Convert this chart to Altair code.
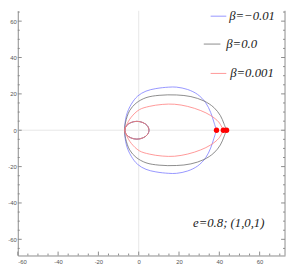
import altair as alt
import pandas as pd

# ---------------- data ----------------
series_names = ["β=−0.01", "β=0.0", "β=0.001"]
series_colors = ["#7b7bff", "#6e6e6e", "#ff7d7d"]

# upper halves (left -> right)
blue_up_x = [-6.9, -6.1, -3.7, -0.5, 3.6, 8.5, 14.9, 18.8, 24.3, 29.2, 33.2, 35.7, 37.3, 38.6]
blue_up_y = [0.0, 8.1, 14.3, 18.8, 21.5, 22.9, 23.7, 23.7, 22.4, 19.7, 15.2, 9.8, 4.5, 0.0]
# lower halves (left -> right)
blue_lo_x = [-6.9, -6.1, -3.7, -0.5, 3.6, 8.5, 14.9, 18.8, 24.3, 29.2, 33.2, 35.7, 37.3, 38.6]
blue_lo_y = [0.0, -8.1, -14.3, -18.8, -21.5, -22.9, -23.7, -23.7, -22.4, -19.7, -15.2, -9.8, -4.5, 0.0]

gray_up_x = [-6.9, -6.5, -4.5, -1.3, 3.6, 10.1, 18.8, 25.9, 32.4, 37.3, 40.5, 42.3, 43.5]
gray_up_y = [0.0, 4.5, 10.8, 14.9, 17.9, 19.2, 19.4, 18.5, 16.1, 12.5, 8.1, 3.6, 0.0]
gray_lo_x = [-6.9, -6.5, -4.5, -1.3, 3.6, 10.1, 18.8, 25.9, 32.4, 37.3, 40.5, 42.3, 43.5]
gray_lo_y = [0.0, -4.5, -10.8, -14.9, -17.9, -19.2, -19.4, -18.5, -16.1, -12.5, -8.1, -3.6, 0.0]

red_up_x = [-6.9, -6.1, -3.7, 0.3, 5.2, 11.7, 17.8, 24.3, 30.8, 35.7, 39.7, 42.0]
red_up_y = [0.0, 2.7, 7.2, 11.3, 13.1, 14.2, 14.3, 13.1, 10.8, 8.1, 4.5, 0.0]
red_lo_x = [-6.9, -6.1, -3.7, 0.3, 5.2, 11.7, 17.8, 24.3, 30.8, 35.7, 39.7, 42.0]
red_lo_y = [0.0, -2.7, -7.2, -11.3, -13.1, -14.2, -14.3, -13.1, -10.8, -8.1, -4.5, 0.0]

# small inner loop (shared by all three), without the joining point (-6.9, 0)
loop_x = [-6.1, -3.9, -0.9, 2.1, 4.3, 5.1, 4.3, 2.1, -0.9, -3.9, -6.1]
loop_y = [-2.45, -4.2, -4.9, -4.2, -2.45, 0.0, 2.45, 4.2, 4.9, 4.2, 2.45]

# red end points
dots_x = [38.6, 42.0, 43.6]
dots_y = [0.0, 0.0, 0.0]

x_labels = [-60, -40, -20, 0, 20, 40, 60]
y_labels = [-60, -40, -20, 0, 20, 40, 60]
x_minor = [-55, -50, -45, -35, -30, -25, -15, -10, -5, 5, 10, 15, 25, 30, 35, 45, 50, 55, 65, 70]
y_minor = [-65, -55, -50, -45, -35, -30, -25, -15, -10, -5, 5, 10, 15, 25, 30, 35, 45, 50, 55, 65]

note_text = "e=0.8; (1,0,1)"

# ---------------- build tables ----------------
curves = [
    (blue_up_x, blue_up_y, blue_lo_x, blue_lo_y),
    (gray_up_x, gray_up_y, gray_lo_x, gray_lo_y),
    (red_up_x, red_up_y, red_lo_x, red_lo_y),
]
rows = []
for name, (ux, uy, lx, ly) in zip(series_names, curves):
    px = list(reversed(ux)) + loop_x + lx
    py = list(reversed(uy)) + loop_y + ly
    for i, (a, b) in enumerate(zip(px, py)):
        rows.append({"x": a, "y": b, "series": name, "ord": i})
curve_df = pd.DataFrame(rows)
dots_df = pd.DataFrame({"x": dots_x, "y": dots_y})

# ---------------- layout / style ----------------
W, H = 273, 250
XDOM = [-60.0, 72.6]
YDOM = [-68.9, 65.7]
FRAME = "#8a8a8a"
LABEL = "#555555"

xs = alt.Scale(domain=XDOM, nice=False, zero=False)
ys = alt.Scale(domain=YDOM, nice=False, zero=False)
xaxis = alt.Axis(values=x_labels, ticks=False, grid=False, domainColor=FRAME,
                 labelFontSize=6, labelColor=LABEL, labelPadding=3,
                 labelFont="Liberation Sans", labelExpr="datum.value + ''", title=None)
yaxis = alt.Axis(values=y_labels, ticks=False, grid=False, domainColor=FRAME,
                 labelFontSize=6, labelColor=LABEL, labelPadding=1.5,
                 labelFont="Liberation Sans", labelExpr="datum.value + ''", title=None)

X = lambda: alt.X("x:Q", scale=xs, axis=xaxis)
Y = lambda: alt.Y("y:Q", scale=ys, axis=yaxis)

zero_df = pd.DataFrame({"x": [0.0], "y": [0.0]})
grid_v = alt.Chart(zero_df).mark_rule(color="#e6e6e6", strokeWidth=1).encode(x=X())
grid_h = alt.Chart(zero_df).mark_rule(color="#e6e6e6", strokeWidth=1).encode(y=Y())

lines = alt.Chart(curve_df).mark_line(strokeWidth=0.8, interpolate="catmull-rom").encode(
    x=X(), y=Y(),
    color=alt.Color("series:N", scale=alt.Scale(domain=series_names, range=series_colors), legend=None),
    order="ord:Q",
    detail="series:N",
)
dots = alt.Chart(dots_df).mark_circle(color="#ff0000", size=30, opacity=1).encode(x=X(), y=Y())

# inward frame ticks
xmaj_df = pd.DataFrame({"x": x_labels})
xmin_df = pd.DataFrame({"x": x_minor})
ymaj_df = pd.DataFrame({"y": y_labels})
ymin_df = pd.DataFrame({"y": y_minor})
tick_layers = [
    alt.Chart(xmaj_df).mark_rule(color=FRAME).encode(x=X(), y=alt.value(H), y2=alt.value(H - 4)),
    alt.Chart(xmin_df).mark_rule(color=FRAME).encode(x=X(), y=alt.value(H), y2=alt.value(H - 2)),
    alt.Chart(ymaj_df).mark_rule(color=FRAME).encode(y=Y(), x=alt.value(0), x2=alt.value(4)),
    alt.Chart(ymin_df).mark_rule(color=FRAME).encode(y=Y(), x=alt.value(0), x2=alt.value(2)),
    alt.Chart(ymaj_df).mark_rule(color=FRAME).encode(y=Y(), x=alt.value(W), x2=alt.value(W - 4)),
    alt.Chart(ymin_df).mark_rule(color=FRAME).encode(y=Y(), x=alt.value(W), x2=alt.value(W - 2)),
]
one = pd.DataFrame({"a": [0]})
right_frame = alt.Chart(one).mark_rule(color=FRAME).encode(
    x=alt.value(W), y=alt.value(0), y2=alt.value(H))

# legend (manual, as in the reference)
leg_pos = [(197, 213, 5.5, 216), (190, 207, 34, 213), (197, 213, 64, 217)]
legend_layers = []
for name, col, (x1, x2, yy, tx) in zip(series_names, series_colors, leg_pos):
    ldf = pd.DataFrame({"label": [name]})
    legend_layers.append(alt.Chart(ldf).mark_rule(color=col, strokeWidth=0.8).encode(
        x=alt.value(x1), x2=alt.value(x2), y=alt.value(yy)))
    legend_layers.append(alt.Chart(ldf).mark_text(
        align="left", baseline="middle", font="Liberation Serif", fontStyle="italic",
        fontSize=13, color="#222222").encode(
        x=alt.value(tx), y=alt.value(yy), text="label:N"))

note = alt.Chart(pd.DataFrame({"t": [note_text]})).mark_text(
    align="left", baseline="middle", font="Liberation Serif", fontStyle="italic",
    fontSize=13, color="#222222").encode(x=alt.value(179), y=alt.value(217), text="t:N")

chart = alt.layer(
    grid_v, grid_h, lines, dots, *tick_layers, right_frame, *legend_layers, note
).properties(
    width=W, height=H,
    padding={"left": 10, "top": 0, "right": 1, "bottom": 14},
    autosize=alt.AutoSizeParams(type="none"),
).configure_view(stroke=None)

chart.save("out.html", embed_options={"renderer": "svg", "actions": False})
